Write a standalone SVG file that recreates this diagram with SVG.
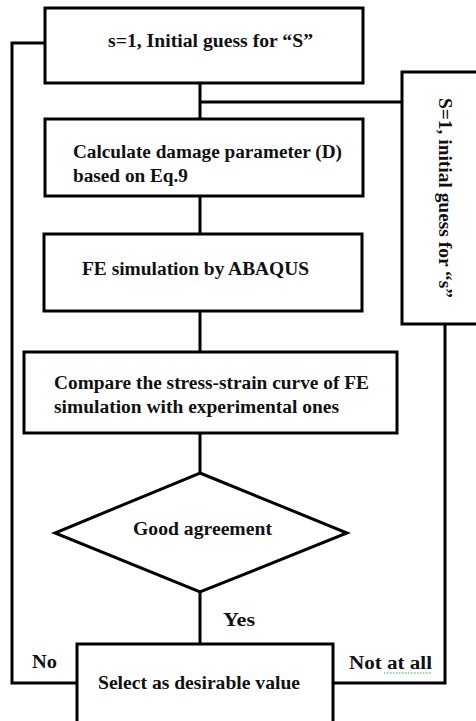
<svg xmlns="http://www.w3.org/2000/svg" width="476" height="721" viewBox="0 0 476 721">
<style>
.box{fill:#fff;stroke:#000;stroke-width:3}
.ln{fill:none;stroke:#000;stroke-width:3}
.t{font-family:"Liberation Serif","Times New Roman",serif;font-weight:bold;font-size:18px;fill:#111}
</style>
<rect width="476" height="721" fill="#fff"/>
<g id="connectors">
<path class="ln" d="M200,83 V119 M200,102 H402 M200,196 V234 M200,311 V352 M200,433 V473 M200,592 V644"/>
<path class="ln" d="M77,683 H12 V43 H45"/>
<path class="ln" d="M333,683 H445 V324"/>
</g>
<g id="start">
<rect class="box" x="45" y="8" width="318" height="75"/>
<text class="t" x="108" y="47" textLength="205" lengthAdjust="spacingAndGlyphs">s=1, Initial guess for “S”</text>
</g>
<g id="guess-s">
<rect class="box" x="402" y="72" width="80" height="252"/>
<text class="t" transform="translate(439,98) rotate(90)" textLength="200" lengthAdjust="spacingAndGlyphs">S=1, initial guess for “s”</text>
</g>
<g id="damage">
<rect class="box" x="45" y="119" width="318" height="77"/>
<text class="t" x="73" y="158" textLength="269" lengthAdjust="spacingAndGlyphs">Calculate damage parameter (D)</text>
<text class="t" x="73" y="182" textLength="115" lengthAdjust="spacingAndGlyphs">based on Eq.9</text>
</g>
<g id="fe">
<rect class="box" x="44" y="234" width="318" height="77"/>
<text class="t" x="82" y="275" textLength="227" lengthAdjust="spacingAndGlyphs">FE simulation by ABAQUS</text>
</g>
<g id="compare">
<rect class="box" x="24" y="352" width="373" height="81"/>
<text class="t" x="54" y="389" textLength="315" lengthAdjust="spacingAndGlyphs">Compare the stress-strain curve of FE</text>
<text class="t" x="54" y="413" textLength="285" lengthAdjust="spacingAndGlyphs">simulation with experimental ones</text>
</g>
<g id="decision">
<polygon class="box" points="200,473 347,533 200,592 55,533"/>
<text class="t" x="133" y="535" textLength="139" lengthAdjust="spacingAndGlyphs">Good agreement</text>
</g>
<g id="select">
<rect class="box" x="77" y="644" width="256" height="90"/>
<text class="t" x="98" y="689" textLength="202" lengthAdjust="spacingAndGlyphs">Select as desirable value</text>
</g>
<g id="labels">
<text class="t" x="223" y="626" textLength="32" lengthAdjust="spacingAndGlyphs">Yes</text>
<text class="t" x="32" y="668" textLength="25" lengthAdjust="spacingAndGlyphs">No</text>
<text class="t" x="349" y="669" textLength="83" lengthAdjust="spacingAndGlyphs">Not at all</text>
<path d="M384,673 H432" fill="none" stroke="#3a3" stroke-width="1" stroke-dasharray="1.5,1.5"/>
</g>
</svg>
